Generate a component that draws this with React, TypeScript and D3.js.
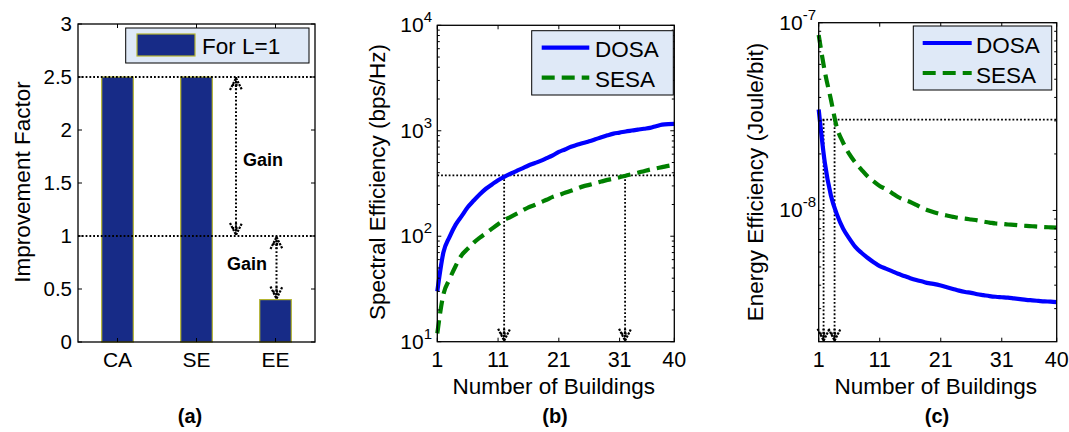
import React from 'react';
import * as d3 from 'd3';

// panel (a)
const categories = ['CA', 'SE', 'EE'];
const improvementFactor = [2.5, 2.5, 0.4];
const improvementTicks = [0, 0.5, 1, 1.5, 2, 2.5, 3];
const gainLevels = [2.5, 1];

// panels (b) and (c)
const buildings = [
  1, 2, 3, 4, 5, 6, 7, 8, 9, 10, 11, 12, 13, 14, 15, 16, 17, 18, 19, 20,
  21, 22, 23, 24, 25, 26, 27, 28, 29, 30, 31, 32, 33, 34, 35, 36, 37, 38, 39, 40,
];
const buildingTicks = [1, 11, 21, 31, 40];

const seDOSA = [
  30, 70, 98, 128, 155, 188, 218, 250, 282, 310, 340, 366, 390, 415, 440, 468, 492, 518, 550, 585,
  630, 665, 705, 735, 766, 795, 830, 868, 905, 940, 960, 985, 1005, 1025, 1045, 1064, 1105, 1145, 1158, 1161,
];
const seSESA = [
  12, 28, 39, 52, 66, 76, 87, 97, 107, 118, 130, 142, 152, 163, 175, 188, 198, 210, 222, 236,
  246, 258, 270, 283, 297, 307, 318, 330, 342, 352, 362, 375, 388, 400, 414, 428, 440, 452, 465, 476,
];
const eeDOSA = [
  3.45e-8, 1.8e-8, 1.2e-8, 9.5e-9, 8.0e-9, 7.1e-9, 6.4e-9, 5.95e-9, 5.6e-9, 5.3e-9,
  5.05e-9, 4.9e-9, 4.75e-9, 4.6e-9, 4.48e-9, 4.36e-9, 4.26e-9, 4.18e-9, 4.1e-9, 4.05e-9,
  3.98e-9, 3.9e-9, 3.82e-9, 3.74e-9, 3.68e-9, 3.64e-9, 3.58e-9, 3.54e-9, 3.5e-9, 3.47e-9,
  3.45e-9, 3.43e-9, 3.4e-9, 3.37e-9, 3.34e-9, 3.32e-9, 3.3e-9, 3.28e-9, 3.27e-9, 3.25e-9,
];
const eeSESA = [
  8.6e-8, 5.5e-8, 3.9e-8, 2.75e-8, 2.3e-8, 2.0e-8, 1.8e-8, 1.65e-8, 1.52e-8, 1.43e-8,
  1.35e-8, 1.3e-8, 1.24e-8, 1.18e-8, 1.14e-8, 1.11e-8, 1.07e-8, 1.03e-8, 1.0e-8, 9.75e-9,
  9.55e-9, 9.4e-9, 9.25e-9, 9.12e-9, 9.05e-9, 8.95e-9, 8.85e-9, 8.72e-9, 8.62e-9, 8.52e-9,
  8.48e-9, 8.42e-9, 8.38e-9, 8.32e-9, 8.28e-9, 8.24e-9, 8.2e-9, 8.16e-9, 8.13e-9, 8.1e-9,
];

const seLevel = 377;
const seMarks = [12, 31.9];
const eeLevel = 3.05e-8;
const eeMarks = [1.8, 3.6];

const FONT = '"Liberation Sans", Arial, sans-serif';
const DOT = '1.8 2';
const HEAD_DOT = '2.2 1.2';
const BAR_FILL = '#172b87';
const BAR_EDGE = '#b5b530';
const LEGEND_FILL = '#dfe9f7';

function arrowHead(x: number, y: number, d: number) {
  // d = 1 tip points down, d = -1 tip points up
  return `M${x - 6},${y - 12 * d} L${x},${y} L${x + 6},${y - 12 * d} M${x},${y} L${x},${y - 12 * d} M${x - 4},${y - 7 * d} L${x + 4},${y - 7 * d}`;
}

function PanelA() {
  const L = 78, R = 315, T = 24, B = 342;
  const x = d3.scaleBand().domain(categories).range([L, R]).paddingInner(0.6).paddingOuter(0.3);
  const y = d3.scaleLinear().domain([0, 3]).range([B, T]);
  const cx = (c: string) => (x(c) as number) + x.bandwidth() / 2;
  const a1 = cx('SE') + x.step() / 2;
  const a2 = cx('EE') + 1;

  return (
    <g>
      {categories.map((c, i) => (
        <rect key={c} x={x(c)} y={y(improvementFactor[i])} width={x.bandwidth()}
              height={y(0) - y(improvementFactor[i])} fill={BAR_FILL} stroke={BAR_EDGE} strokeWidth={1.2}/>
      ))}
      {gainLevels.map((g) => (
        <line key={g} x1={L} x2={R} y1={y(g)} y2={y(g)} stroke="#000" strokeWidth={1.8} strokeDasharray={DOT}/>
      ))}
      <g stroke="#000" fill="none">
        <line x1={a1} x2={a1} y1={y(2.5)} y2={y(1)} strokeWidth={2} strokeDasharray={DOT}/>
        <line x1={a2} x2={a2} y1={y(1)} y2={y(0.4)} strokeWidth={2} strokeDasharray={DOT}/>
        <g strokeWidth={2.2} strokeDasharray={HEAD_DOT}>
          <path d={arrowHead(a1, y(2.5) + 1, -1)}/>
          <path d={arrowHead(a1, y(1) - 1, 1)}/>
          <path d={arrowHead(a2, y(1) + 1, -1)}/>
          <path d={arrowHead(a2, y(0.4) - 1, 1)}/>
        </g>
      </g>
      <text x={a1 + 7} y={166} fontSize={18} fontWeight="bold">Gain</text>
      <text x={227} y={270} fontSize={18} fontWeight="bold">Gain</text>

      <rect x={L} y={T} width={R - L} height={B - T} fill="none" stroke="#000" strokeWidth={1.3}/>
      {improvementTicks.map((t) => (
        <g key={t}>
          <line x1={L} x2={L + 4} y1={y(t)} y2={y(t)} stroke="#000"/>
          <line x1={R - 4} x2={R} y1={y(t)} y2={y(t)} stroke="#000"/>
          <text x={L - 6} y={y(t) + 7} textAnchor="end" fontSize={20.5}>{t}</text>
        </g>
      ))}
      {categories.map((c) => (
        <g key={c}>
          <line x1={cx(c)} x2={cx(c)} y1={T} y2={T + 4} stroke="#000"/>
          <line x1={cx(c)} x2={cx(c)} y1={B} y2={B - 4} stroke="#000"/>
          <text x={cx(c)} y={367} textAnchor="middle" fontSize={21}>{c}</text>
        </g>
      ))}

      <rect x={125.7} y={28} width={183.3} height={35} fill={LEGEND_FILL} stroke="#000" strokeWidth={1}/>
      <rect x={137} y={34} width={58} height={22} fill={BAR_FILL} stroke={BAR_EDGE} strokeWidth={1.2}/>
      <text x={202} y={54.3} fontSize={22.5}>For L=1</text>

      <text transform={`translate(30,182) rotate(-90)`} textAnchor="middle" fontSize={22.5}>Improvement Factor</text>
      <text x={190} y={423} textAnchor="middle" fontSize={20} fontWeight="bold">(a)</text>
    </g>
  );
}

function LogTick({ x, y, exp, size = 21 }: { x: number; y: number; exp: string; size?: number }) {
  return (
    <text x={x} y={y + 7} textAnchor="end" fontSize={size}>
      10<tspan dy={-10} fontSize={15}>{exp}</tspan>
    </text>
  );
}

function Legend({ x, y, w, h, lx1, lx2, tx }: any) {
  return (
    <g>
      <rect x={x} y={y} width={w} height={h} fill={LEGEND_FILL} stroke="#000" strokeWidth={1}/>
      <line x1={lx1} x2={lx2} y1={y + 17} y2={y + 17} stroke="#0000ff" strokeWidth={4.2}/>
      <line x1={lx1} x2={lx2} y1={y + 47} y2={y + 47} stroke="#008000" strokeWidth={4.2} strokeDasharray="13 7"/>
      <text x={tx} y={y + 26.6} fontSize={22.5}>DOSA</text>
      <text x={tx} y={y + 56.6} fontSize={22.5}>SESA</text>
    </g>
  );
}

function CurvePanel({ L, R, T, B, domain, minor, majors, dosa, sesa, level, marks, ylabel, ylabelX, labelX, tag, tickX, legend }: any) {
  const x = d3.scaleLinear().domain([1, 40]).range([L, R]);
  const y = d3.scaleLog().domain(domain).range([B, T]);
  const line = (vals: number[]) =>
    d3.line<number>().curve(d3.curveMonotoneX).x((_, i) => x(buildings[i])).y((v) => y(v))(vals) as string;

  return (
    <g>
      <line x1={L} x2={R} y1={y(level)} y2={y(level)} stroke="#000" strokeWidth={1.8} strokeDasharray={DOT}/>
      <g stroke="#000" fill="none">
        {marks.map((m: number) => (
          <g key={m}>
            <line x1={x(m)} x2={x(m)} y1={y(level)} y2={B} strokeDasharray={DOT} strokeWidth={1.8}/>
            <path d={arrowHead(x(m), B - 1, 1)} strokeDasharray={HEAD_DOT} strokeWidth={2.2}/>
          </g>
        ))}
      </g>
      <path d={line(dosa)} fill="none" stroke="#0000ff" strokeWidth={4.2} strokeLinejoin="round"/>
      <path d={line(sesa)} fill="none" stroke="#008000" strokeWidth={4.2} strokeDasharray="13 7"/>

      <rect x={L} y={T} width={R - L} height={B - T} fill="none" stroke="#000" strokeWidth={1.3}/>
      {buildingTicks.map((t) => (
        <g key={t}>
          <line x1={x(t)} x2={x(t)} y1={B} y2={B - 4} stroke="#000"/>
          <line x1={x(t)} x2={x(t)} y1={T} y2={T + 4} stroke="#000"/>
          <text x={x(t)} y={367} textAnchor="middle" fontSize={21.5}>{t}</text>
        </g>
      ))}
      {minor.map((v: number) => (
        <g key={v}>
          <line x1={L} x2={L + 2.5} y1={y(v)} y2={y(v)} stroke="#000"/>
          <line x1={R - 2.5} x2={R} y1={y(v)} y2={y(v)} stroke="#000"/>
        </g>
      ))}
      {majors.map(([v, exp]: [number, string]) => (
        <g key={exp}>
          <line x1={L} x2={L + 4} y1={y(v)} y2={y(v)} stroke="#000"/>
          <line x1={R - 4} x2={R} y1={y(v)} y2={y(v)} stroke="#000"/>
          <LogTick x={tickX} y={y(v)} exp={exp}/>
        </g>
      ))}
      <Legend {...legend}/>
      <text transform={`translate(${ylabelX},182) rotate(-90)`} textAnchor="middle" fontSize={22.5}>{ylabel}</text>
      <text x={(L + R) / 2 - 2} y={394} textAnchor="middle" fontSize={22.5}>Number of Buildings</text>
      <text x={labelX} y={423} textAnchor="middle" fontSize={20} fontWeight="bold">{tag}</text>
    </g>
  );
}

const seMinor = [1, 2, 3].flatMap((k) => [2, 3, 4, 5, 6, 7, 8, 9].map((m) => m * Math.pow(10, k)));
const eeMinor = [3e-9, 4e-9, 5e-9, 6e-9, 7e-9, 8e-9, 9e-9, 2e-8, 3e-8, 4e-8, 5e-8, 6e-8, 7e-8, 8e-8, 9e-8];

export default function App() {
  return (
    <svg width={1069} height={432} style={{ position: 'absolute', left: 0, top: 0, background: '#fff' }}
         fontFamily={FONT} fill="#000">
      <PanelA/>
      <CurvePanel L={437.3} R={674.3} T={25.3} B={341.7} domain={[10, 1e4]} minor={seMinor}
                  majors={[[10, '1'], [100, '2'], [1000, '3'], [10000, '4']]}
                  dosa={seDOSA} sesa={seSESA} level={seLevel} marks={seMarks}
                  ylabel="Spectral Efficiency (bps/Hz)" ylabelX={385} labelX={555} tag="(b)" tickX={432}
                  legend={{ x: 531.7, y: 30.7, w: 141.6, h: 64.3, lx1: 541.7, lx2: 589.3, tx: 595 }}/>
      <CurvePanel L={818.7} R={1056.7} T={22.7} B={341.7} domain={[2e-9, 1e-7]} minor={eeMinor}
                  majors={[[1e-8, '-8'], [1e-7, '-7']]}
                  dosa={eeDOSA} sesa={eeSESA} level={eeLevel} marks={eeMarks}
                  ylabel="Energy Efficiency (Joule/bit)" ylabelX={763} labelX={937} tag="(c)" tickX={816}
                  legend={{ x: 913.3, y: 26, w: 138.4, h: 64, lx1: 922.7, lx2: 971.7, tx: 976 }}/>
    </svg>
  );
}
